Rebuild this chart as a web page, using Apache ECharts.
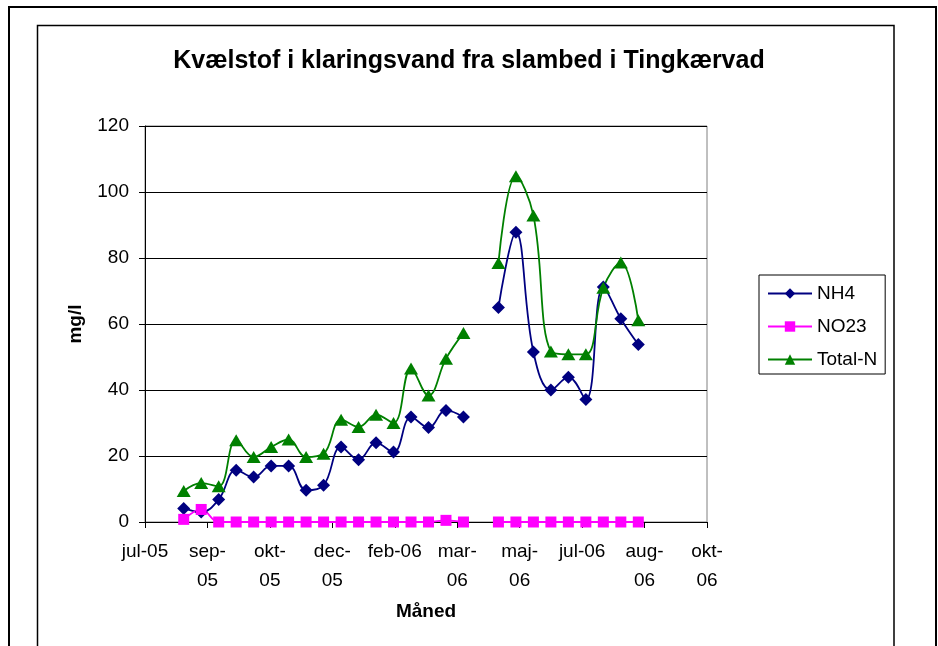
<!DOCTYPE html>
<html>
<head>
<meta charset="utf-8">
<title>Kvælstof i klaringsvand</title>
<script src="https://cdn.jsdelivr.net/npm/echarts@6/dist/echarts.min.js"></script>
<style>
  html, body { margin: 0; padding: 0; background: #fff; }
  #chart { width: 938px; height: 646px; }
</style>
</head>
<body>
<div id="chart"></div>
<script>
// sample dates (every 14 days, 2006-04-12 missing)
const sampleDates = [
  '2005-08-17', '2005-08-31', '2005-09-14', '2005-09-28', '2005-10-12', '2005-10-26',
  '2005-11-09', '2005-11-23', '2005-12-07', '2005-12-21', '2006-01-04', '2006-01-18',
  '2006-02-01', '2006-02-15', '2006-03-01', '2006-03-15', '2006-03-29', '2006-04-12',
  '2006-04-26', '2006-05-10', '2006-05-24', '2006-06-07', '2006-06-21', '2006-07-05',
  '2006-07-19', '2006-08-02', '2006-08-16'
]

const nh4 = [4.1, 3, 6.8, 15.7, 13.6, 17, 17, 9.6, 11.1, 22.7, 18.9, 24, 21.2, 31.8, 28.6, 33.8, 31.8, null,
  65, 87.8, 51.5, 40, 43.9, 37.1, 71.2, 61.6, 53.8]
const no23 = [0.8, 3.8, 0, 0, 0, 0, 0, 0, 0, 0, 0, 0, 0, 0, 0, 0.5, 0, null,
  0, 0, 0, 0, 0, 0, 0, 0, 0]
const totalN = [9.4, 11.8, 10.8, 24.8, 19.7, 22.7, 25, 19.7, 20.7, 31, 28.8, 32.5, 30, 46.5, 38.3, 49.5, 57.3, null,
  78.5, 104.8, 92.9, 51.7, 50.8, 50.8, 71, 78.6, 61.1]

// x axis in Excel day serials: 38550 = 17 jul 2005, step 50 days
const xMin = 38550
const xMax = 39000
const xStep = 50
const xTickLabels = ['jul-05', 'sep-\n05', 'okt-\n05', 'dec-\n05', 'feb-06', 'mar-\n06', 'maj-\n06', 'jul-06', 'aug-\n06', 'okt-\n06']

const yTicks = [0, 20, 40, 60, 80, 100, 120]

const toSerial = (s) => {
  const [y, m, d] = s.split('-').map(Number)
  return Math.round((Date.UTC(y, m - 1, d) - Date.UTC(1899, 11, 30)) / 86400000)
}
const xs = sampleDates.map(toSerial)
const pairs = (vals) => vals.map((v, i) => [xs[i], v === null ? '-' : v])

const font = "'Liberation Sans', Arial, sans-serif"

const chart = echarts.init(document.getElementById('chart'))

const option = {
  animation: false,
  backgroundColor: '#fff',
  title: {
    text: 'Kvælstof i klaringsvand fra slambed i Tingkærvad',
    left: 'center',
    top: 44,
    textStyle: { fontFamily: font, fontSize: 25, fontWeight: 'bold', color: '#000' }
  },
  legend: {
    orient: 'vertical',
    left: 759,
    top: 275,
    width: 129,
    padding: [9, 8, 5, 8],
    itemGap: 14,
    itemWidth: 44,
    itemHeight: 13,
    borderColor: '#000',
    borderWidth: 1,
    textStyle: { fontFamily: font, fontSize: 19, color: '#000' },
    data: ['NH4', 'NO23', 'Total-N']
  },
  grid: {
    left: 145,
    right: 231,
    top: 126,
    bottom: 124,
    show: true,
    borderColor: '#808080',
    borderWidth: 1
  },
  xAxis: {
    type: 'value',
    min: xMin,
    max: xMax,
    interval: xStep,
    name: 'Måned',
    nameLocation: 'middle',
    nameGap: 80,
    nameTextStyle: { fontFamily: font, fontSize: 19, fontWeight: 'bold', color: '#000' },
    axisLine: { lineStyle: { color: '#000', width: 1 } },
    axisTick: { inside: false, length: 6, lineStyle: { color: '#000' } },
    splitLine: { show: false },
    axisLabel: {
      fontFamily: font,
      fontSize: 19,
      color: '#000',
      margin: 15,
      lineHeight: 29,
      formatter: (v) => xTickLabels[Math.round((v - xMin) / xStep)] || ''
    }
  },
  yAxis: {
    type: 'value',
    min: yTicks[0],
    max: yTicks[yTicks.length - 1],
    interval: 20,
    name: 'mg/l',
    nameLocation: 'middle',
    nameGap: 60,
    nameTextStyle: { fontFamily: font, fontSize: 19, fontWeight: 'bold', color: '#000' },
    axisLine: { show: true, lineStyle: { color: '#000', width: 1 } },
    axisTick: { show: true, inside: false, length: 6, lineStyle: { color: '#000' } },
    splitLine: { lineStyle: { color: '#000', width: 1 } },
    axisLabel: { fontFamily: font, fontSize: 19, color: '#000', margin: 16 }
  },
  series: [
    {
      name: 'NH4',
      type: 'line',
      smooth: 0.4,
      data: pairs(nh4),
      symbol: 'diamond',
      symbolSize: 13,
      lineStyle: { color: '#000080', width: 1.8 },
      itemStyle: { color: '#000080' }
    },
    {
      name: 'NO23',
      type: 'line',
      smooth: 0.4,
      data: pairs(no23),
      symbol: 'rect',
      symbolSize: 11,
      lineStyle: { color: '#FF00FF', width: 1.8 },
      itemStyle: { color: '#FF00FF' }
    },
    {
      name: 'Total-N',
      type: 'line',
      smooth: 0.4,
      data: pairs(totalN),
      symbol: 'triangle',
      symbolSize: [14, 12],
      lineStyle: { color: '#008000', width: 1.8 },
      itemStyle: { color: '#008000' }
    }
  ],
  // frames around the chart
  graphic: [
    {
      type: 'rect',
      shape: { x: 9, y: 7, width: 927, height: 700 },
      style: { fill: 'none', stroke: '#000', lineWidth: 2 },
      silent: true
    },
    {
      type: 'rect',
      shape: { x: 37.5, y: 25.5, width: 856.5, height: 700 },
      style: { fill: 'none', stroke: '#000', lineWidth: 1.5 },
      silent: true
    }
  ]
}

chart.setOption(option)
</script>
</body>
</html>
